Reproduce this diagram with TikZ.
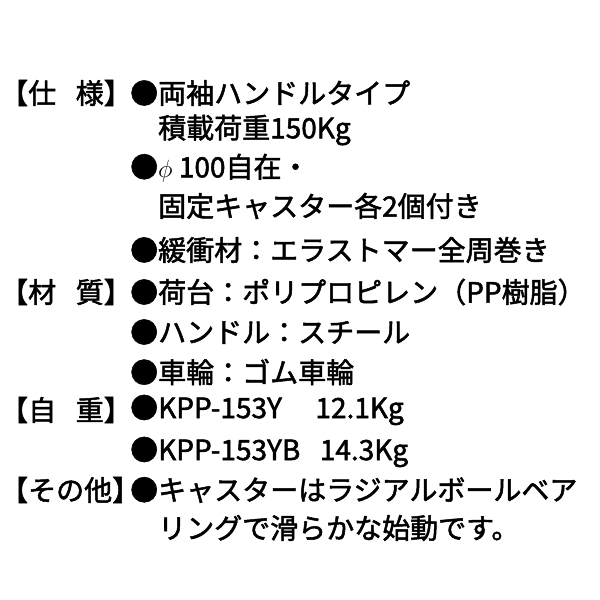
\documentclass[tikz,border=0pt]{standalone}
\usepackage{fontspec}
\newfontfamily\jp{Noto Sans CJK JP}[FakeBold=1.8]
\tikzset{txt/.style={anchor=west,inner sep=0pt,font=\jp\fontsize{28}{28}\selectfont}}
\begin{document}
\begin{tikzpicture}[x=1pt,y=-1pt]
        \useasboundingbox (0,0) rectangle (600,600);
        % labels
        \node[txt] (spec) at (0,93) {【仕\hspace{0.7em}様】};
        \node[txt] (mat) at (0,292) {【材\hspace{0.7em}質】};
        \node[txt] (wt) at (0,410) {【自\hspace{0.7em}重】};
        \node[txt] (etc) at (0,490) {【その他】};
        % items
        \node[txt] (a1) at (130,93) {●両袖ハンドルタイプ};
        \node[txt] (a2) at (158,130) {積載荷重150Kg};
        \node[txt] (a3) at (130,168) {●$\phi$ 100自在・};
        \node[txt] (a4) at (158,206) {固定キャスター各2個付き};
        \node[txt] (a5) at (130,250) {●緩衝材：エラストマー全周巻き};
        \node[txt] (b1) at (130,292) {●荷台：ポリプロピレン（PP樹脂）};
        \node[txt] (b2) at (130,332) {●ハンドル：スチール};
        \node[txt] (b3) at (130,372) {●車輪：ゴム車輪};
        \node[txt] (c1) at (130,410) {●KPP-153Y\hspace{1.2em}12.1Kg};
        \node[txt] (c2) at (130,452) {●KPP-153YB\hspace{0.7em}14.3Kg};
        \node[txt] (d1) at (130,490) {●キャスターはラジアルボールベア};
        \node[txt] (d2) at (158,528) {リングで滑らかな始動です。};
\end{tikzpicture}
\end{document}
